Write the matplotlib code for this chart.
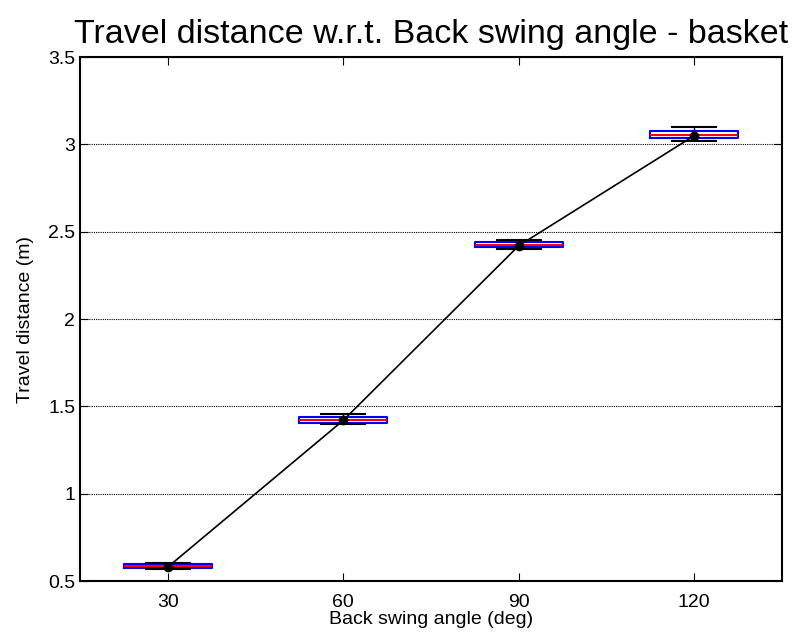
import matplotlib
matplotlib.use("Agg")
import matplotlib.pyplot as plt

plt.rcParams['font.family'] = ['Liberation Sans', 'DejaVu Sans']

# 데이터
angles = ["30", "60", "90", "120"]
q1 = [0.574, 1.405, 2.410, 3.035]
q3 = [0.597, 1.440, 2.440, 3.076]
med = [0.586, 1.420, 2.426, 3.053]
wlo = [0.570, 1.400, 2.400, 3.020]
whi = [0.603, 1.456, 2.455, 3.100]
means = [0.580, 1.420, 2.420, 3.050]

stats = []
for i in range(len(angles)):
    stats.append({"med": med[i], "q1": q1[i], "q3": q3[i],
                  "whislo": wlo[i], "whishi": whi[i], "fliers": []})

fig = plt.figure(figsize=(7.98, 6.41), dpi=100)
ax = fig.add_axes([0.1003, 0.0936, 0.8797, 0.8174])

pos = list(range(1, len(angles) + 1))
ax.bxp(stats, positions=pos, widths=0.5, showfliers=False,
       boxprops=dict(color="blue", linewidth=1.5),
       medianprops=dict(color="red", linewidth=1.5),
       whiskerprops=dict(color="black", linestyle="--", linewidth=1),
       capprops=dict(color="black", linewidth=1.5),
       capwidths=0.25)
ax.plot(pos, means, color="black", linewidth=1.2, marker="o", markersize=6, zorder=5)

ax.set_xlim(0.5, 4.5)
ax.set_ylim(0.5, 3.5)
ax.set_xticks(pos)
ax.set_xticklabels(angles)
yt = [0.5, 1, 1.5, 2, 2.5, 3, 3.5]
ax.set_yticks(yt)
ax.set_yticklabels(["0.5", "1", "1.5", "2", "2.5", "3", "3.5"])
ax.yaxis.grid(True, color="black", linestyle=(0, (1, 1)), linewidth=0.8)
ax.tick_params(direction="in", labelsize=14, length=6)
ax.tick_params(axis="x", pad=9)
ax.tick_params(top=True, right=True)
for s in ax.spines.values():
    s.set_linewidth(1.5)

ax.set_title("Travel distance w.r.t. Back swing angle - basket", fontsize=24.5, pad=10)
ax.set_xlabel("Back swing angle (deg)", fontsize=14, labelpad=0)
ax.set_ylabel("Travel distance (m)", fontsize=14, labelpad=10)

plt.savefig("out.png", dpi=100)
